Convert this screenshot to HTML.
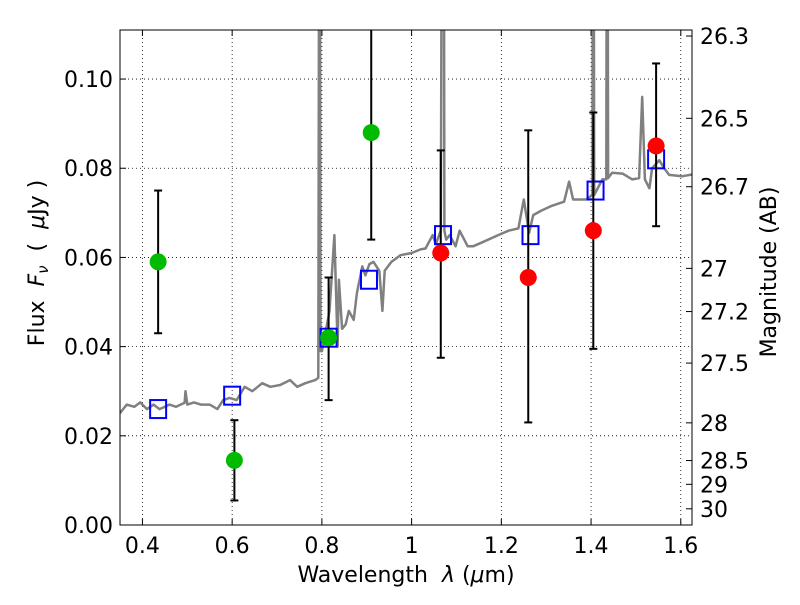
<!DOCTYPE html>
<html><head><meta charset="utf-8"><style>
body{margin:0;background:#fff;}
svg text{font-family:"DejaVu Sans","Liberation Sans",sans-serif;font-size:22px;fill:#000;}
</style></head><body>
<svg id="chart" width="800" height="600" xmlns="http://www.w3.org/2000/svg"></svg>
<script>
const specWave=[0.35,0.365,0.382,0.395,0.41,0.425,0.438,0.45,0.46,0.475,0.494,0.496,0.5,0.515,0.53,0.55,0.567,0.58,0.594,0.61,0.628,0.645,0.667,0.685,0.707,0.729,0.745,0.763,0.785,0.792,0.795,0.797,0.80,0.806,0.817,0.828,0.835,0.838,0.845,0.853,0.86,0.871,0.878,0.89,0.897,0.906,0.915,0.928,0.935,0.94,0.955,0.975,1.0,1.02,1.031,1.047,1.054,1.065,1.069,1.071,1.073,1.077,1.085,1.098,1.107,1.125,1.137,1.16,1.193,1.216,1.238,1.25,1.262,1.271,1.289,1.311,1.34,1.351,1.36,1.389,1.403,1.405,1.407,1.425,1.434,1.436,1.438,1.447,1.47,1.492,1.507,1.514,1.52,1.53,1.536,1.552,1.563,1.574,1.603,1.625];
const specFlux=[0.0251,0.027,0.0265,0.0275,0.026,0.027,0.026,0.0265,0.027,0.0265,0.0274,0.030,0.027,0.0275,0.027,0.027,0.026,0.028,0.0285,0.028,0.031,0.030,0.0318,0.031,0.0314,0.0325,0.031,0.0318,0.0325,0.033,0.2,0.039,0.039,0.042,0.048,0.065,0.040,0.055,0.044,0.045,0.048,0.046,0.052,0.058,0.056,0.0585,0.059,0.057,0.048,0.057,0.059,0.0605,0.061,0.0618,0.062,0.065,0.063,0.066,0.2,0.2,0.066,0.064,0.065,0.0625,0.066,0.0625,0.0625,0.0635,0.065,0.066,0.0665,0.073,0.0655,0.0695,0.0705,0.0715,0.0725,0.077,0.073,0.073,0.074,0.2,0.074,0.0775,0.0775,0.2,0.0778,0.079,0.0788,0.0775,0.0778,0.096,0.0775,0.0755,0.08,0.0818,0.080,0.0785,0.0782,0.0786];
const obsWave=[0.435,0.605,0.815,0.91,1.065,1.26,1.405,1.545];
const obsFlux=[0.059,0.0145,0.042,0.088,0.061,0.0555,0.066,0.085];
const errLow=[0.043,0.0055,0.028,0.064,0.0375,0.023,0.0395,0.067];
const errHigh=[0.075,0.0235,0.0555,0.115,0.084,0.0885,0.0925,0.1035];
const obsColor=['#00bb00','#00bb00','#00bb00','#00bb00','#ff0000','#ff0000','#ff0000','#ff0000'];
const modelWave=[0.435,0.6,0.815,0.905,1.07,1.265,1.41,1.545];
const modelFlux=[0.026,0.029,0.042,0.055,0.065,0.065,0.075,0.082];
const xTicks=[0.4,0.6,0.8,1.0,1.2,1.4,1.6];
const xTickLabels=['0.4','0.6','0.8','1','1.2','1.4','1.6'];
const yTicks=[0,0.02,0.04,0.06,0.08,0.10];
const yTickLabels=['0.00','0.02','0.04','0.06','0.08','0.10'];
const magTicks=[26.3,26.5,26.7,27,27.2,27.5,28,28.5,29,30];

const L=120,R=692,T=30,B=525,x0=0.35,x1=1.625,y0=0,y1=0.111;
const X=v=>L+(v-x0)/(x1-x0)*(R-L);
const Y=v=>B-(v-y0)/(y1-y0)*(B-T);
const svg=document.getElementById('chart');
const NS='http://www.w3.org/2000/svg';
function mk(tag,attrs,parent){const e=document.createElementNS(NS,tag);for(const k in attrs)e.setAttribute(k,attrs[k]);(parent||svg).appendChild(e);return e;}

const clip=mk('clipPath',{id:'pc'});mk('rect',{x:L,y:T,width:R-L,height:B-T},clip);
xTicks.forEach((t,i)=>{
  const g=mk('line',{x1:X(t),x2:X(t),y1:T,y2:B,stroke:'#000','stroke-dasharray':'1,3','stroke-width':0.8});
  
  
  mk('line',{x1:X(t),x2:X(t),y1:B,y2:B-6,stroke:'#000'});
  mk('line',{x1:X(t),x2:X(t),y1:T,y2:T+6,stroke:'#000'});
  const tx=mk('text',{x:X(t),y:B+28,'text-anchor':'middle'});tx.textContent=xTickLabels[i];
  
  
});
yTicks.forEach((t,i)=>{
  const g=mk('line',{x1:L,x2:R,y1:Y(t),y2:Y(t),stroke:'#000','stroke-dasharray':'1,3','stroke-width':0.8});
  
  
  mk('line',{x1:L,x2:L+6,y1:Y(t),y2:Y(t),stroke:'#000'});
  const tx=mk('text',{x:L-7,y:Y(t)+8,'text-anchor':'end'});tx.textContent=yTickLabels[i];
  
  
});
magTicks.forEach(m=>{
  const f=Math.pow(10,(23.9-m)/2.5);const y=Y(f);
  mk('line',{x1:R,x2:R-6,y1:y,y2:y,stroke:'#000'});
  const tx=mk('text',{x:R+8,y:y+8});tx.textContent=String(m);
  
  
});
const g=mk('g',{'clip-path':'url(#pc)'});
let d=specWave.map((w,i)=>(i?'L':'M')+X(w).toFixed(1)+','+Y(specFlux[i]).toFixed(1)).join(' ');
const sp=mk('path',{d:d,fill:'none',stroke:'#808080','stroke-width':2.5,'stroke-linejoin':'round'},g);


modelWave.forEach((w,i)=>{
  const r=mk('rect',{x:X(w)-8,y:Y(modelFlux[i])-9,width:16,height:18,fill:'none',stroke:'#0000ff','stroke-width':2},g);
  
  
});
obsWave.forEach((w,i)=>{
  const x=X(w);
  const e=mk('line',{x1:x,x2:x,y1:Y(errLow[i]),y2:Y(errHigh[i]),stroke:'#000','stroke-width':2},g);
  
  
  [errLow[i],errHigh[i]].forEach(v=>mk('line',{x1:x-4,x2:x+4,y1:Y(v),y2:Y(v),stroke:'#000','stroke-width':2},g));
  const c=mk('circle',{cx:x,cy:Y(obsFlux[i]),r:8.5,fill:obsColor[i]},g);
  
  
});
const fr=mk('rect',{x:L,y:T,width:R-L,height:B-T,fill:'none',stroke:'#000','stroke-width':1});


</script>
<svg style="position:absolute;left:0;top:0" width="800" height="600" xmlns="http://www.w3.org/2000/svg">
<text x="406" y="582" text-anchor="middle" xml:space="preserve">Wavelength  <tspan font-style="italic">λ</tspan> (<tspan font-style="italic">μ</tspan>m)</text>
<text transform="translate(44,263) rotate(-90)" text-anchor="middle" xml:space="preserve">Flux  <tspan font-style="italic">F</tspan><tspan font-style="italic" font-size="15" dy="4">ν</tspan><tspan dy="-4">  (  </tspan><tspan font-style="italic">μ</tspan>Jy )</text>
<text transform="translate(776,272) rotate(-90)" text-anchor="middle">Magnitude (AB)</text>
</svg>
</body></html>
